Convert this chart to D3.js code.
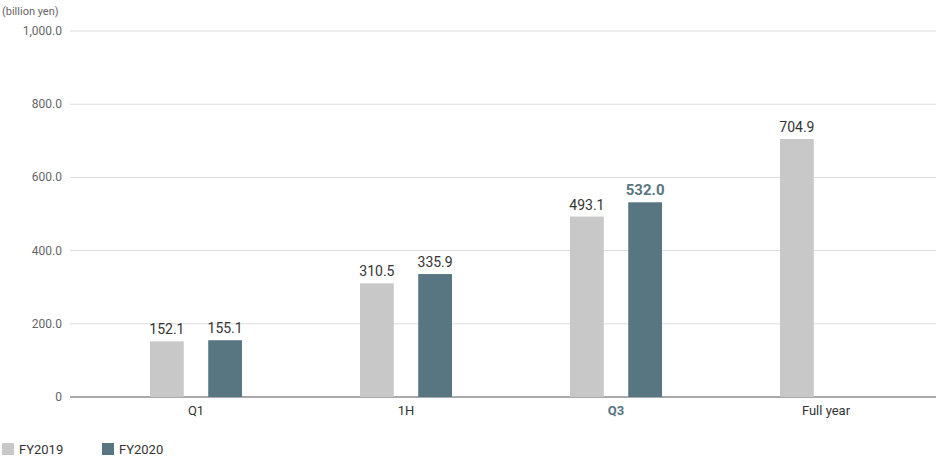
<!DOCTYPE html>
<html><head><meta charset="utf-8">
<script src="https://cdn.jsdelivr.net/npm/d3@7"></script>
<style>body{margin:0;background:#fff}svg{font-family:Roboto,"Noto Sans",sans-serif}</style>
</head><body><svg id="c" width="936" height="456"></svg>
<script>
const categories = ["Q1","1H","Q3","Full year"];
const fy2019 = [152.1, 310.5, 493.1, 704.9];
const fy2020 = [155.1, 335.9, 532.0, null];
const yTicks = [0,200,400,600,800,1000];
const tickLabels = ["0","200.0","400.0","600.0","800.0","1,000.0"];
const seriesNames = ["FY2019","FY2020"];
const colors = ["#c8c8c8","#587582"];

const svg = d3.select("#c");
const x = d3.scaleBand().domain(categories).range([91,931]);
const y = d3.scaleLinear().domain([0,1000]).range([397,31]);
const off = d3.scaleBand().domain(seriesNames).range([-46,46]).paddingInner(0.42).paddingOuter(0);

svg.append("g").selectAll("line").data(yTicks).join("line")
  .attr("x1",70).attr("x2",936).attr("y1",d=>y(d)).attr("y2",d=>y(d))
  .attr("stroke",d=>d===0?"#555":"#ddd").attr("stroke-width",1);
svg.append("g").selectAll("text").data(yTicks).join("text")
  .attr("x",62).attr("y",d=>y(d)+4).attr("text-anchor","end")
  .attr("font-size",12).attr("fill","#666").text((d,i)=>tickLabels[i]);
svg.append("text").attr("x",2).attr("y",15).attr("font-size",11).attr("fill","#666").text("(billion yen)");

[fy2019,fy2020].forEach((vals,si)=>{
  const g = svg.append("g");
  const data = categories.map((c,i)=>({c,v:vals[i]})).filter(d=>d.v!=null);
  const bw = off.bandwidth();
  g.selectAll("rect").data(data).join("rect")
    .attr("x",d=>x(d.c)+x.bandwidth()/2+off(seriesNames[si]))
    .attr("y",d=>y(d.v)).attr("width",bw).attr("height",d=>y(0)-y(d.v))
    .attr("fill",colors[si]);
  g.selectAll("text").data(data).join("text")
    .attr("x",d=>x(d.c)+x.bandwidth()/2+off(seriesNames[si])+bw/2)
    .attr("y",d=>y(d.v)-7).attr("text-anchor","middle")
    .attr("font-size",d=>d.c==="Q3"&&si===1?15:14)
    .attr("font-weight",d=>d.c==="Q3"&&si===1?"bold":"normal")
    .attr("fill",d=>d.c==="Q3"&&si===1?"#587582":"#333")
    .text(d=>d.v.toFixed(1));
});

svg.append("g").selectAll("text").data(categories).join("text")
  .attr("x",d=>x(d)+x.bandwidth()/2).attr("y",415).attr("text-anchor","middle")
  .attr("font-size",13)
  .attr("font-weight",d=>d==="Q3"?"bold":"normal")
  .attr("fill",d=>d==="Q3"?"#587582":"#333").text(d=>d);

const lg = svg.append("g");
seriesNames.forEach((n,i)=>{
  const lx = 2 + i*100;
  lg.append("rect").attr("x",lx).attr("y",443).attr("width",12).attr("height",12).attr("fill",colors[i]);
  lg.append("text").attr("x",lx+17).attr("y",454).attr("font-size",13).attr("fill","#333").text(n);
});
</script></body></html>
